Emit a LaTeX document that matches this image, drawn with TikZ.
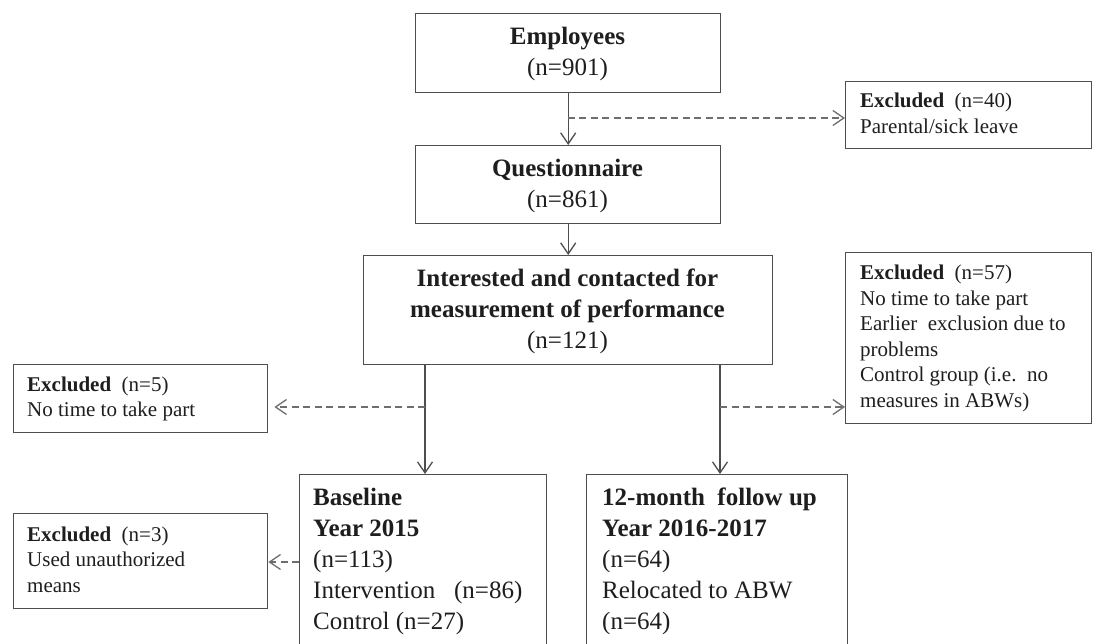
\documentclass[tikz,border=0pt]{standalone}
\usepackage{fontspec}
\setmainfont{Liberation Serif}
\usetikzlibrary{arrows.meta}
\definecolor{ln}{HTML}{4E4E4E}
\definecolor{dl}{HTML}{6E6E6E}
\definecolor{tx}{HTML}{1E1E1E}
\newcommand{\mlines}[2]{\begin{tabular}[t]{@{}#1@{}}#2\end{tabular}}
\newcommand{\bigf}{\fontsize{25}{31}\selectfont}
\newcommand{\smf}{\fontsize{21}{25.5}\selectfont}
\tikzset{
  pbox/.style={draw=ln, line width=1.4pt, inner sep=0pt, anchor=north west},
  txl/.style={inner sep=0pt, text=tx, anchor=base west},
  txc/.style={inner sep=0pt, text=tx, anchor=base},
  arr/.style={draw=ln, line width=1.4pt, -{Straight Barb[length=11pt,width=15pt,line width=1.3pt]}},
  dsh/.style={draw=dl, line width=1.4pt, dash pattern=on 7pt off 4.5pt, -{Straight Barb[length=11pt,width=15pt,line width=1.3pt]}}
}
\begin{document}
\begin{tikzpicture}[x=1pt,y=-1pt]
\path[use as bounding box, fill=white] (0,0) rectangle (1095,644);
\clip (0,0) rectangle (1095,644);
% boxes
\node[pbox, minimum width=305pt, minimum height=79pt] (emp) at (415,13) {};
\node[pbox, minimum width=305pt, minimum height=78pt] (que) at (415,145) {};
\node[pbox, minimum width=409pt, minimum height=109pt] (int) at (363,255) {};
\node[pbox, minimum width=246pt, minimum height=67pt] (ex40) at (845,81) {};
\node[pbox, minimum width=246pt, minimum height=171pt] (ex57) at (845,252) {};
\node[pbox, minimum width=254pt, minimum height=68pt] (ex5) at (13,364) {};
\node[pbox, minimum width=254pt, minimum height=95pt] (ex3) at (13,513) {};
\node[pbox, minimum width=247pt, minimum height=190pt] (base) at (299,474) {};
\node[pbox, minimum width=261pt, minimum height=190pt] (fol) at (586,474) {};
% texts
\node[txc] (temp) at (567.5,45) {\bigf\mlines{c}{\textbf{Employees}\\(n=901)}};
\node[txc] (tque) at (567.5,177) {\bigf\mlines{c}{\textbf{Questionnaire}\\(n=861)}};
\node[txc] (tint) at (567.5,287) {\bigf\mlines{c}{\textbf{Interested and contacted for}\\\textbf{measurement of performance}\\(n=121)}};
\node[txl] (tex40) at (860,108) {\smf\mlines{l}{\textbf{Excluded}\ \ (n=40)\\Parental/sick leave}};
\node[txl] (tex57) at (860,280) {\smf\mlines{l}{\textbf{Excluded}\ \ (n=57)\\No time to take part\\Earlier\ \ exclusion due to\\problems\\Control group (i.e.\ \ no\\measures in ABWs)}};
\node[txl] (tex5) at (27,391) {\smf\mlines{l}{\textbf{Excluded}\ \ (n=5)\\No time to take part}};
\node[txl] (tex3) at (27,541) {\smf\mlines{l}{\textbf{Excluded}\ \ (n=3)\\Used unauthorized\\means}};
\node[txl] (tbase) at (313,505) {\bigf\mlines{l}{\textbf{Baseline}\\\textbf{Year 2015}\\(n=113)\\Intervention\ \ \ (n=86)\\Control\ (n=27)}};
\node[txl] (tfol) at (602,505) {\bigf\mlines{l}{\textbf{12-month\ \ follow up}\\\textbf{Year 2016-2017}\\(n=64)\\Relocated\ to ABW\\(n=64)}};
% junctions
\coordinate (j1) at (567.5,118);
\coordinate (j2) at (425,407);
\coordinate (j3) at (720,407);
\coordinate (j4) at (299,562);
% connectors
\draw[arr] (emp.south) -- (que.north);
\draw[arr] (que.south) -- (int.north);
\draw[dsh] (j1) -- (j1 -| ex40.west);
\draw[arr] (j2 |- int.south) -- (j2 |- base.north);
\draw[arr] (j3 |- int.south) -- (j3 |- fol.north);
\draw[dsh, shorten >=6pt] (j2) -- (j2 -| ex5.east);
\draw[dsh] (j3) -- (j3 -| ex57.west);
\draw[dsh] (j4) -- (j4 -| ex3.east);
\end{tikzpicture}
\end{document}
